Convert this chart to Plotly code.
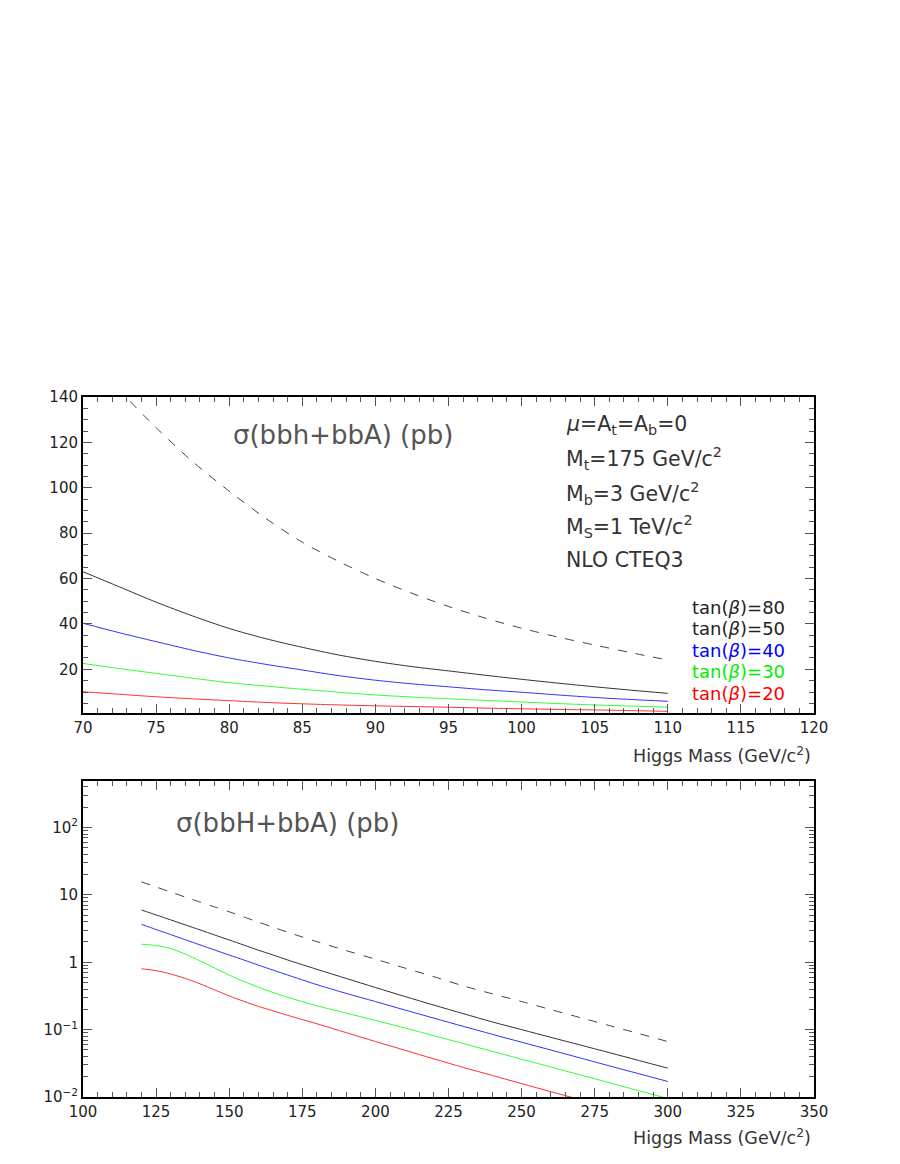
import plotly.graph_objects as go

# ---------------- top panel data (light h + A) ----------------
mass_top = [70, 72.5, 75, 77.5, 80, 82.5, 85, 87.5, 90, 92.5, 95, 97.5, 100, 102.5, 105, 107.5, 110]
top_tb80 = [162, 143, 126.5, 111.5, 98.5, 86.5, 76, 67.5, 60, 53.5, 47.7, 42.6, 38.1, 34.2, 30.7, 27.3, 24.1]
top_tb50 = [63, 56.3, 49.6, 43.5, 38.0, 33.5, 29.7, 26.3, 23.5, 21.2, 19.3, 17.4, 15.6, 13.9, 12.3, 10.8, 9.4]
top_tb40 = [40.3, 36.1, 32.2, 28.4, 25.0, 22.2, 19.7, 17.2, 15.2, 13.6, 12.3, 11.0, 9.9, 8.7, 7.6, 6.7, 5.9]
top_tb30 = [22.6, 20.3, 18.2, 16.1, 14.1, 12.6, 11.2, 9.9, 8.7, 7.8, 7.0, 6.3, 5.6, 4.9, 4.3, 3.8, 3.3]
top_tb20 = [10.1, 9.0, 7.9, 7.0, 6.2, 5.4, 4.8, 4.3, 3.9, 3.6, 3.3, 2.9, 2.6, 2.3, 2.1, 1.8, 1.5]

# ---------------- bottom panel data (heavy H + A) ----------------
mass_bot = [120, 125, 130, 135, 140, 145, 150, 155, 160, 165, 170, 180, 190, 200, 210, 220, 230, 240, 250, 260, 270, 280, 290, 300]
bot_tb80 = [15.6, 13.1, 11.0, 9.27, 7.82, 6.62, 5.61, 4.70, 3.94, 3.31, 2.79, 2.02, 1.49, 1.11, 0.822, 0.61, 0.447, 0.34, 0.261, 0.198, 0.151, 0.115, 0.0875, 0.0665]
bot_tb50 = [5.96, 5.04, 4.25, 3.58, 3.02, 2.54, 2.14, 1.80, 1.51, 1.28, 1.08, 0.785, 0.575, 0.422, 0.311, 0.231, 0.173, 0.130, 0.100, 0.0767, 0.0592, 0.0455, 0.0349, 0.0268]
bot_tb40 = [3.65, 3.06, 2.57, 2.16, 1.81, 1.52, 1.28, 1.08, 0.906, 0.764, 0.646, 0.465, 0.345, 0.261, 0.196, 0.148, 0.112, 0.0851, 0.065, 0.0498, 0.038, 0.029, 0.0222, 0.017]
bot_tb30 = [1.85, 1.77, 1.60, 1.32, 1.05, 0.822, 0.646, 0.519, 0.427, 0.355, 0.302, 0.226, 0.176, 0.137, 0.106, 0.0813, 0.0622, 0.0476, 0.0364, 0.0279, 0.0213, 0.0163, 0.0124, 0.0095]
bot_tb20 = [0.80, 0.75, 0.668, 0.575, 0.479, 0.389, 0.316, 0.263, 0.221, 0.190, 0.163, 0.122, 0.0902, 0.0667, 0.0495, 0.0368, 0.0275, 0.0209, 0.0158, 0.012, 0.00912, 0.00692, 0.00525, 0.00398]

legend_labels = ["tan(<i>β</i>)=80", "tan(<i>β</i>)=50", "tan(<i>β</i>)=40", "tan(<i>β</i>)=30", "tan(<i>β</i>)=20"]
legend_colors = ["#222222", "#222222", "#0000ff", "#00ee00", "#ff0000"]
line_colors = ["#444444", "#333333", "#3030ff", "#30ff30", "#ff3030"]
line_dash = ["dash", "solid", "solid", "solid", "solid"]

params = ["<i>μ</i>=A<sub>t</sub>=A<sub>b</sub>=0",
          "M<sub>t</sub>=175 GeV/c<sup>2</sup>",
          "M<sub>b</sub>=3 GeV/c<sup>2</sup>",
          "M<sub>S</sub>=1 TeV/c<sup>2</sup>",
          "NLO CTEQ3"]

log_tickvals = [0.01, 0.1, 1, 10, 100]
log_ticktext = ["10<sup>−2</sup>", "10<sup>−1</sup>", "1", "10", "10<sup>2</sup>"]

FONT = "DejaVu Sans"
W, H = 900, 1164

fig = go.Figure()

top_series = [top_tb80, top_tb50, top_tb40, top_tb30, top_tb20]
bot_series = [bot_tb80, bot_tb50, bot_tb40, bot_tb30, bot_tb20]
for i, ys in enumerate(top_series):
    fig.add_trace(go.Scatter(x=mass_top, y=ys, mode="lines", xaxis="x", yaxis="y",
                             line=dict(color=line_colors[i], width=1, dash=line_dash[i], shape="spline", smoothing=0.8),
                             showlegend=False, hoverinfo="skip"))
for i, ys in enumerate(bot_series):
    fig.add_trace(go.Scatter(x=mass_bot, y=ys, mode="lines", xaxis="x2", yaxis="y2",
                             line=dict(color=line_colors[i], width=1, dash=line_dash[i], shape="spline", smoothing=0.8),
                             showlegend=False, hoverinfo="skip"))

def px_x(p):
    return p / W

def px_y(p):
    return 1 - p / H

axis_common = dict(showline=True, linecolor="black", linewidth=2, mirror="ticks",
                   ticks="inside", tickcolor="#555555", tickwidth=1, ticklen=9,
                   showgrid=False, zeroline=False, automargin=False,
                   tickfont=dict(family=FONT, size=15, color="#222222"))

minor_x = dict(ticks="inside", ticklen=5, tickcolor="#555555", tickwidth=1, showgrid=False)

log_minor_vals = []
for dec in [0.01, 0.1, 1, 10, 100]:
    for k in range(2, 10):
        v = dec * k
        if v < 500:
            log_minor_vals.append(v)

fig.update_layout(
    width=W, height=H,
    margin=dict(l=0, r=0, t=0, b=0, autoexpand=False),
    paper_bgcolor="white", plot_bgcolor="white",
    hovermode=False, dragmode=False,
    xaxis=dict(domain=[px_x(83), px_x(814)], range=[70, 120], dtick=5, tick0=70,
               anchor="y", minor=dict(dtick=1, **minor_x), **axis_common),
    yaxis=dict(domain=[px_y(713), px_y(397)], range=[0.75, 140], dtick=20, tick0=0,
               anchor="x", minor=dict(dtick=5, tick0=0, **minor_x), **axis_common),
    xaxis2=dict(domain=[px_x(83), px_x(814)], range=[100, 350], dtick=25, tick0=100,
                anchor="y2", minor=dict(dtick=5, **minor_x), **axis_common),
    yaxis2=dict(domain=[px_y(1097), px_y(781)], type="log", range=[-2, 2.69],
                tickmode="array", tickvals=log_tickvals, ticktext=log_ticktext,
                anchor="x2", minor=dict(tickmode="array", tickvals=log_minor_vals, **minor_x),
                **axis_common),
)

ann = []
ann.append(dict(x=px_x(343), y=px_y(435), xref="paper", yref="paper", showarrow=False,
                text="σ(bbh+bbA) (pb)", font=dict(family=FONT, size=26, color="#555555"),
                xanchor="center", yanchor="middle"))
ann.append(dict(x=px_x(287), y=px_y(823), xref="paper", yref="paper", showarrow=False,
                text="σ(bbH+bbA) (pb)", font=dict(family=FONT, size=26, color="#555555"),
                xanchor="center", yanchor="middle"))
param_y = [425, 459, 493, 527, 560]
for t, yy in zip(params, param_y):
    ann.append(dict(x=px_x(564), y=px_y(yy), xref="paper", yref="paper", showarrow=False,
                    text=t, font=dict(family=FONT, size=20.5, color="#333333"),
                    xanchor="left", yanchor="middle"))
leg_y = [607, 628.5, 650, 671.5, 693]
for t, c, yy in zip(legend_labels, legend_colors, leg_y):
    ann.append(dict(x=px_x(690), y=px_y(yy), xref="paper", yref="paper", showarrow=False,
                    text=t, font=dict(family=FONT, size=18, color=c),
                    xanchor="left", yanchor="middle"))
for yy in [755, 1137]:
    ann.append(dict(x=px_x(813), y=px_y(yy), xref="paper", yref="paper", showarrow=False,
                    text="Higgs Mass (GeV/c<sup>2</sup>)", font=dict(family=FONT, size=17.5, color="#333333"),
                    xanchor="right", yanchor="middle"))
fig.update_layout(annotations=ann)

fig.write_html("out.html",
               config={"displayModeBar": False, "staticPlot": True},
               post_script="document.body.style.margin='0px';document.body.style.overflow='hidden';")
